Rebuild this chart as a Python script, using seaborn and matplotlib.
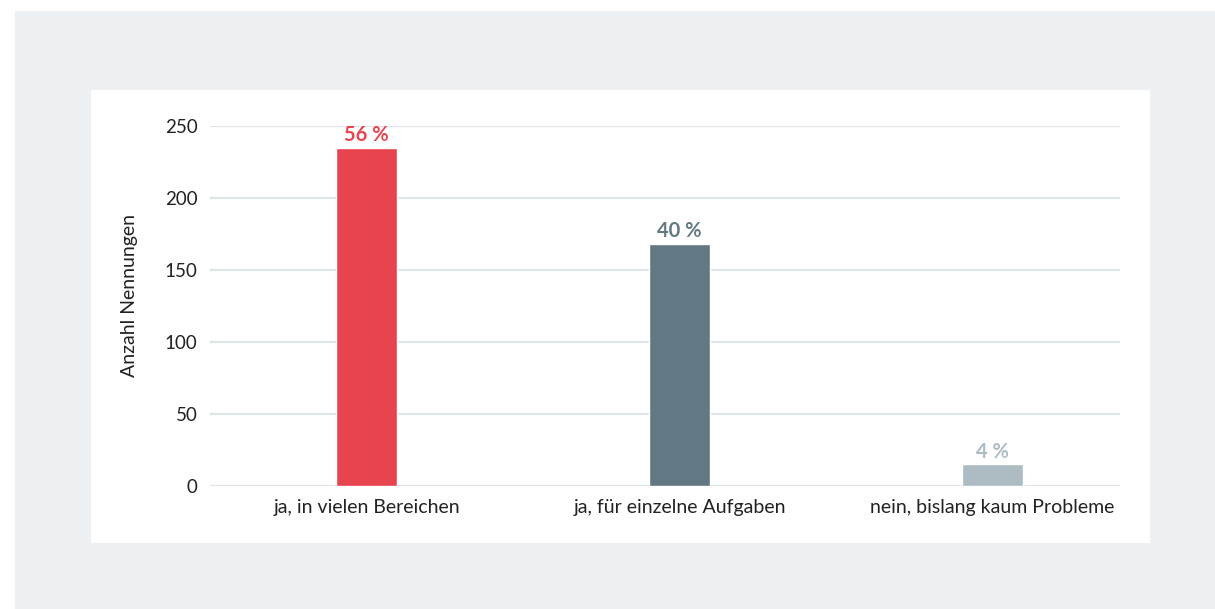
import matplotlib
matplotlib.use("Agg")
import matplotlib.pyplot as plt
from matplotlib.patches import Rectangle
import seaborn as sns
import pandas as pd

categories = ["ja, in vielen Bereichen", "ja, für einzelne Aufgaben", "nein, bislang kaum Probleme"]
values = [235, 168, 15]
pct_labels = ["56 %", "40 %", "4 %"]
colors = ["#e8444f", "#627882", "#adbbc3"]
yticks = [0, 50, 100, 150, 200, 250]
ylabel = "Anzahl Nennungen"

sns.set_theme(style="white")
plt.rcParams["font.family"] = ["Lato", "DejaVu Sans"]

fig = plt.figure(figsize=(12.15, 6.09), dpi=100, facecolor="white")
fig.patches.append(Rectangle((15/1215, 0), 1, (609-11)/609, transform=fig.transFigure,
                             facecolor="#edf1f4", edgecolor="none", zorder=-3))
fig.patches.append(Rectangle((91/1215, (609-543)/609), 1059/1215, 453/609, transform=fig.transFigure,
                             facecolor="white", edgecolor="none", zorder=-2))

ax = fig.add_axes([210/1215, (609-486)/609, 910/1215, 360/609])
ax.set_facecolor("none")

df = pd.DataFrame({"cat": categories, "val": values})
sns.barplot(data=df, x="cat", y="val", hue="cat", palette=colors, legend=False,
            width=0.195, ax=ax, saturation=1, zorder=3)

for i, (v, lab, c) in enumerate(zip(values, pct_labels, colors)):
    ax.annotate(lab, (i, v), xytext=(0, 2), textcoords="offset points",
                ha="center", va="bottom", color=c, fontsize=14.5, fontweight="bold")

ax.set_ylim(0, 250)
ax.set_xlim(-0.5, 2.407)
ax.set_yticks(yticks)
ax.yaxis.grid(True, color="#dfe4e8", linewidth=1.6, zorder=0)
ax.set_axisbelow(True)
for s in ax.spines.values():
    s.set_visible(False)
ax.tick_params(axis="both", length=0, colors="#222222")
ax.tick_params(axis="y", pad=9, labelsize=13.5)
ax.tick_params(axis="x", pad=9, labelsize=14)
ax.set_xlabel("")
ax.set_ylabel(ylabel, fontsize=14, color="#222222")
ax.yaxis.set_label_coords(-0.079, 0.53)

fig.savefig("out.png", dpi=100, facecolor="white")
